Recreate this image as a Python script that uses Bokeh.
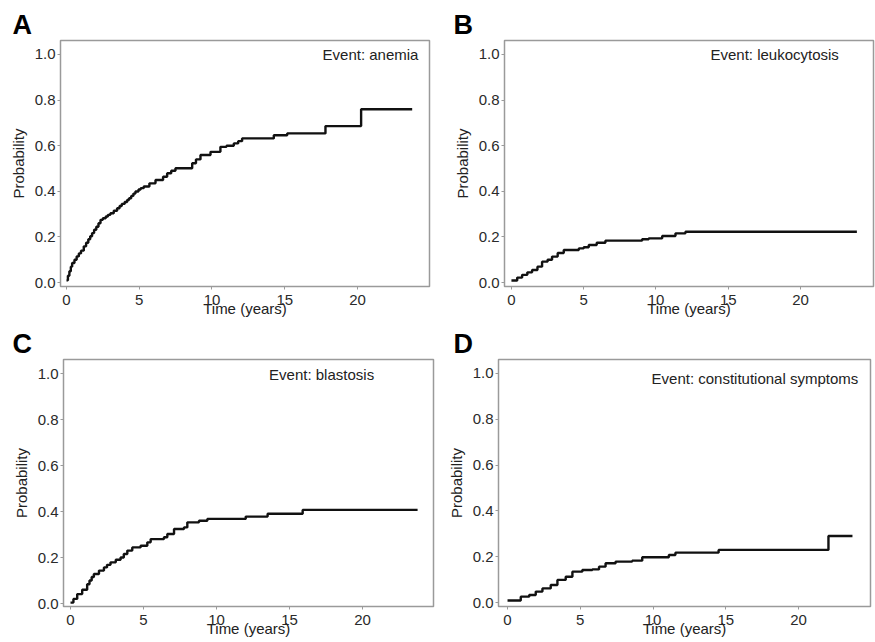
from bokeh.plotting import figure
from bokeh.layouts import column, row
from bokeh.models import Label, FixedTicker, NumeralTickFormatter, Range1d
from bokeh.embed import file_html
from bokeh.resources import INLINE

# ---- data ----
x_ticks = [0, 5, 10, 15, 20]
y_ticks = [0.0, 0.2, 0.4, 0.6, 0.8, 1.0]

events = ["Event: anemia", "Event: leukocytosis", "Event: blastosis",
          "Event: constitutional symptoms"]
letters = ["A", "B", "C", "D"]

times_a = [0, 0.1, 0.2, 0.3, 0.39, 0.55, 0.7, 0.85, 1.0, 1.19, 1.35, 1.5, 1.63,
           1.76, 1.9, 2.05, 2.2, 2.34, 2.5, 2.7, 2.85, 3.02, 3.25, 3.48, 3.65,
           3.8, 4.0, 4.17, 4.3, 4.45, 4.6, 4.74, 4.95, 5.1, 5.31, 5.7, 6.12,
           6.64, 6.92, 7.2, 7.49, 8.64, 8.9, 9.21, 9.9, 10.58, 11.0, 11.5, 11.8,
           12.07, 14.25, 15.17, 17.8, 20.25, 23.76]
probs_a = [0.01, 0.03, 0.05, 0.07, 0.086, 0.1, 0.115, 0.128, 0.14, 0.159, 0.175,
           0.19, 0.203, 0.217, 0.232, 0.245, 0.26, 0.275, 0.282, 0.29, 0.297,
           0.304, 0.315, 0.326, 0.336, 0.345, 0.353, 0.362, 0.37, 0.38, 0.39,
           0.399, 0.408, 0.414, 0.421, 0.435, 0.45, 0.464, 0.479, 0.49, 0.501,
           0.523, 0.54, 0.559, 0.573, 0.595, 0.6, 0.61, 0.62, 0.632, 0.646,
           0.654, 0.686, 0.76, 0.76]

times_b = [0, 0.4, 0.74, 1.1, 1.43, 1.8, 2.12, 2.5, 2.81, 3.2, 3.62, 4.66, 5.0,
           5.35, 5.9, 6.5, 9.04, 9.5, 10.43, 11.35, 12.04, 23.9]
probs_b = [0.009, 0.022, 0.034, 0.045, 0.055, 0.07, 0.092, 0.1, 0.114, 0.13,
           0.143, 0.15, 0.155, 0.165, 0.175, 0.184, 0.19, 0.194, 0.204, 0.216,
           0.223, 0.223]

times_c = [0, 0.2, 0.46, 0.8, 1.14, 1.3, 1.45, 1.6, 1.95, 2.29, 2.5, 2.74, 3.1,
           3.43, 3.65, 3.89, 4.23, 4.8, 5.26, 5.49, 6.4, 6.63, 7.09, 7.77, 8.0,
           8.8, 9.37, 12.0, 13.5, 15.9, 23.77]
probs_c = [0.004, 0.02, 0.041, 0.06, 0.084, 0.1, 0.115, 0.128, 0.143, 0.157,
           0.168, 0.179, 0.19, 0.2, 0.215, 0.23, 0.244, 0.251, 0.266, 0.28,
           0.288, 0.302, 0.324, 0.331, 0.353, 0.36, 0.368, 0.378, 0.39, 0.407,
           0.407]

times_d = [0, 0.91, 1.49, 1.94, 2.4, 2.97, 3.43, 4.0, 4.46, 5.14, 5.83, 6.29,
           6.74, 7.43, 8.57, 9.26, 11.09, 11.54, 14.51, 22.06, 23.71]
probs_d = [0.009, 0.026, 0.033, 0.048, 0.062, 0.077, 0.099, 0.113, 0.135,
           0.142, 0.145, 0.157, 0.172, 0.179, 0.183, 0.198, 0.208, 0.218, 0.23,
           0.291, 0.291]

FONT = "Liberation Sans"

panels = [
    dict(w=435, h=320, bl=60, br=6, bt=40, bb=33, xr=(-0.41, 24.95),
         yr=(-0.017, 1.061), ev=(17.6, 1.0), toff=-48),
    dict(w=440, h=320, bl=69, br=2, bt=40, bb=34, xr=(-0.48, 25.05),
         yr=(-0.017, 1.061), ev=(13.77, 1.0), toff=-51),
    dict(w=435, h=322, bl=63, br=2, bt=39, bb=36, xr=(-0.48, 24.86),
         yr=(-0.013, 1.061), ev=(13.6, 0.995), toff=-51),
    dict(w=440, h=322, bl=63, br=5, bt=39, bb=35, xr=(-0.62, 24.95),
         yr=(-0.017, 1.061), ev=(9.9, 0.98), toff=-45),
]
series = [(times_a, probs_a), (times_b, probs_b), (times_c, probs_c), (times_d, probs_d)]

figs = []
for i, cfg in enumerate(panels):
    p = figure(width=cfg["w"], height=cfg["h"], output_backend="svg",
               toolbar_location=None,
               x_range=Range1d(*cfg["xr"]), y_range=Range1d(*cfg["yr"]),
               min_border_left=cfg["bl"], min_border_right=cfg["br"],
               min_border_top=cfg["bt"], min_border_bottom=cfg["bb"])
    p.outline_line_color = "#9a9a9a"
    p.outline_line_width = 1.5
    p.xgrid.visible = False
    p.ygrid.visible = False
    p.background_fill_color = "white"
    p.border_fill_color = "white"

    p.title.text = letters[i]
    p.title.align = "left"
    p.title.offset = cfg["toff"]
    p.title.standoff = 2
    p.title.text_font = FONT
    p.title.text_font_size = "27px"
    p.title.text_font_style = "bold"
    p.title.text_color = "#000000"

    for ax in (p.xaxis[0], p.yaxis[0]):
        ax.axis_line_color = None
        ax.major_tick_line_color = "#9a9a9a"
        ax.major_tick_out = 3
        ax.major_tick_in = 0
        ax.minor_tick_line_color = None
        ax.major_label_text_font = FONT
        ax.major_label_text_font_size = "15px"
        ax.major_label_text_color = "#2a2a2a"
        ax.axis_label_text_font = FONT
        ax.axis_label_text_font_size = "15px"
        ax.axis_label_text_font_style = "normal"
        ax.axis_label_text_color = "#222222"
    p.xaxis[0].ticker = FixedTicker(ticks=x_ticks)
    p.yaxis[0].ticker = FixedTicker(ticks=y_ticks)
    p.yaxis[0].formatter = NumeralTickFormatter(format="0.0")
    p.xaxis[0].major_label_standoff = 5
    p.yaxis[0].major_label_standoff = 2
    p.xaxis[0].axis_label = "Time (years)"
    p.xaxis[0].axis_label_standoff = -8
    p.yaxis[0].axis_label = "Probability"
    p.yaxis[0].axis_label_standoff = 5

    t, pr = series[i]
    p.step(t, pr, mode="after", line_color="#111111", line_width=2.4)

    p.add_layout(Label(x=cfg["ev"][0], y=cfg["ev"][1], text=events[i],
                       text_font=FONT, text_font_size="15px", text_color="#222222",
                       text_baseline="middle", text_align="left"))
    figs.append(p)

layout = column(row(figs[0], figs[1]), row(figs[2], figs[3]))
open("out.html", "w").write(file_html(layout, INLINE))
